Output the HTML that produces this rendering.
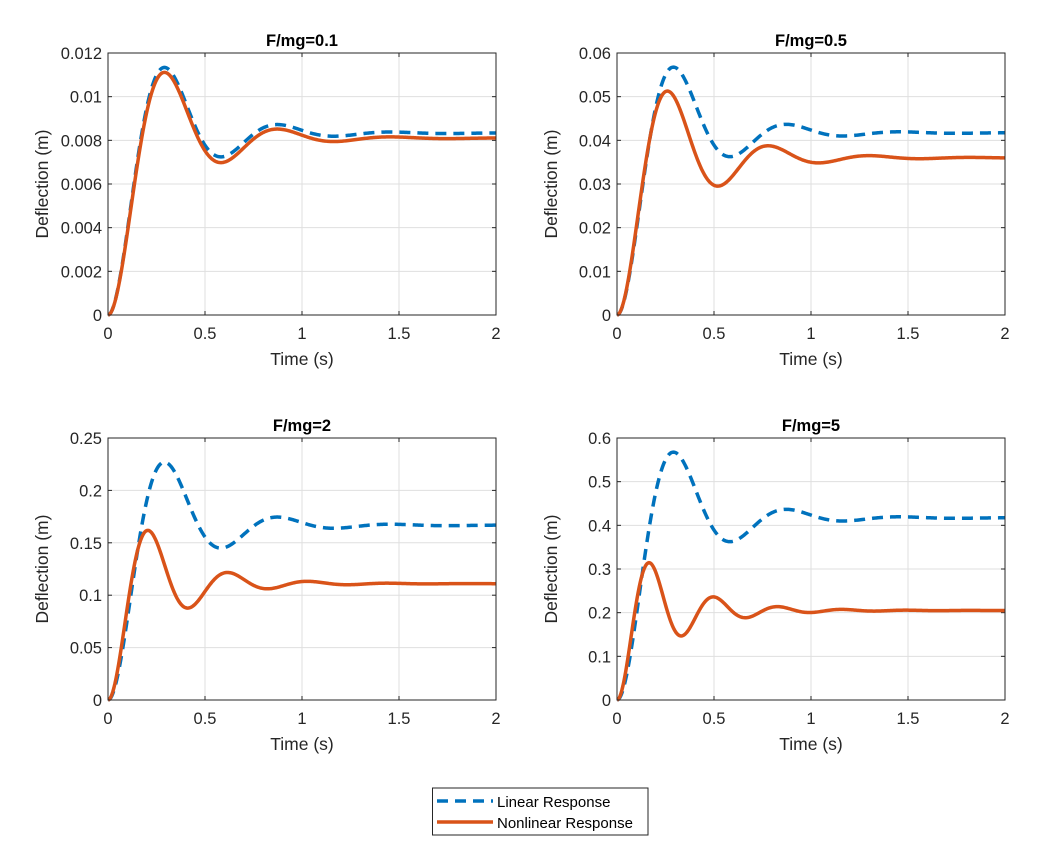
<!DOCTYPE html>
<html><head><meta charset="utf-8"><style>
body{margin:0;background:#fff;}
svg{display:block;font-family:"Liberation Sans",Arial,sans-serif;}
</style></head><body>
<svg id="s" width="1056" height="865" xmlns="http://www.w3.org/2000/svg"></svg>
<script>
const S=document.getElementById('s');
let h='';
const panels=[
 {x:108,y:53,title:'F/mg=0.1',ymax:0.012,ticks:[0,0.002,0.004,0.006,0.008,0.01,0.012],lab:['0','0.002','0.004','0.006','0.008','0.01','0.012'],
  lin:[0.00833,3.5,10.8],non:[0.0081,3.4,10.8]},
 {x:617,y:53,title:'F/mg=0.5',ymax:0.06,ticks:[0,0.01,0.02,0.03,0.04,0.05,0.06],lab:['0','0.01','0.02','0.03','0.04','0.05','0.06'],
  lin:[0.0417,3.5,10.8],non:[0.036,3.3,12.1]},
 {x:108,y:438,title:'F/mg=2',ymax:0.25,ticks:[0,0.05,0.1,0.15,0.2,0.25],lab:['0','0.05','0.1','0.15','0.2','0.25'],
  lin:[0.1667,3.5,10.8],non:[0.111,3.8,15.3]},
 {x:617,y:438,title:'F/mg=5',ymax:0.6,ticks:[0,0.1,0.2,0.3,0.4,0.5,0.6],lab:['0','0.1','0.2','0.3','0.4','0.5','0.6'],
  lin:[0.417,3.5,10.8],non:[0.205,3.8,19]}
];
const W=388,H=262;
function resp(p,t){const[A,a,w]=p;return A*(1-Math.exp(-a*t)*(Math.cos(w*t)+a/w*Math.sin(w*t)));}
for(const P of panels){
 const X=t=>P.x+t/2*W, Y=v=>P.y+H-v/P.ymax*H;
 for(const t of [0.5,1,1.5]) h+=`<line x1="${X(t)}" y1="${P.y}" x2="${X(t)}" y2="${P.y+H}" stroke="#dfdfdf" stroke-width="1"/>`;
 P.ticks.forEach((v,i)=>{ if(i>0&&i<P.ticks.length-1) h+=`<line x1="${P.x}" y1="${Y(v)}" x2="${P.x+W}" y2="${Y(v)}" stroke="#dfdfdf" stroke-width="1"/>`;});
 for(const t of [0,0.5,1,1.5,2]){h+=`<line x1="${X(t)}" y1="${P.y+H}" x2="${X(t)}" y2="${P.y+H-4}" stroke="#262626"/><line x1="${X(t)}" y1="${P.y}" x2="${X(t)}" y2="${P.y+4}" stroke="#262626"/>`;
  h+=`<text x="${X(t)}" y="${P.y+H+24}" font-size="16.5" text-anchor="middle" fill="#262626">${t}</text>`;}
 P.ticks.forEach((v,i)=>{h+=`<line x1="${P.x}" y1="${Y(v)}" x2="${P.x+4}" y2="${Y(v)}" stroke="#262626"/><line x1="${P.x+W}" y1="${Y(v)}" x2="${P.x+W-4}" y2="${Y(v)}" stroke="#262626"/>`;
  h+=`<text x="${P.x-6}" y="${Y(v)+6}" font-size="16.5" text-anchor="end" fill="#262626">${P.lab[i]}</text>`;});
 let dl='',dn='';
 for(let i=0;i<=400;i++){const t=i/200;dl+=(i?'L':'M')+X(t).toFixed(2)+' '+Y(resp(P.lin,t)).toFixed(2);dn+=(i?'L':'M')+X(t).toFixed(2)+' '+Y(resp(P.non,t)).toFixed(2);}
 h+=`<path d="${dl}" fill="none" stroke="#0072BD" stroke-width="3.5" stroke-dasharray="11,7"/>`;
 h+=`<path d="${dn}" fill="none" stroke="#D95319" stroke-width="3.5"/>`;
 h+=`<rect x="${P.x}" y="${P.y}" width="${W}" height="${H}" fill="none" stroke="#262626" stroke-width="1"/>`;
 h+=`<text x="${P.x+W/2}" y="${P.y-7}" font-size="16.5" font-weight="bold" text-anchor="middle" fill="#000">${P.title}</text>`;
 h+=`<text x="${P.x+W/2}" y="${P.y+H+50}" font-size="17.5" text-anchor="middle" fill="#262626">Time (s)</text>`;
 h+=`<text transform="translate(${P.x-60},${P.y+H/2}) rotate(-90)" font-size="17.5" text-anchor="middle" fill="#262626">Deflection (m)</text>`;
}
h+=`<rect x="432.5" y="788" width="215.5" height="47" fill="#fff" stroke="#262626"/>`;
h+=`<line x1="437" y1="801" x2="493" y2="801" stroke="#0072BD" stroke-width="3.5" stroke-dasharray="11,7"/>`;
h+=`<line x1="437" y1="822" x2="493" y2="822" stroke="#D95319" stroke-width="3.5"/>`;
h+=`<text x="497" y="807" font-size="15" fill="#000">Linear Response</text>`;
h+=`<text x="497" y="828" font-size="15" fill="#000">Nonlinear Response</text>`;
S.innerHTML=h;
</script>
</body></html>
